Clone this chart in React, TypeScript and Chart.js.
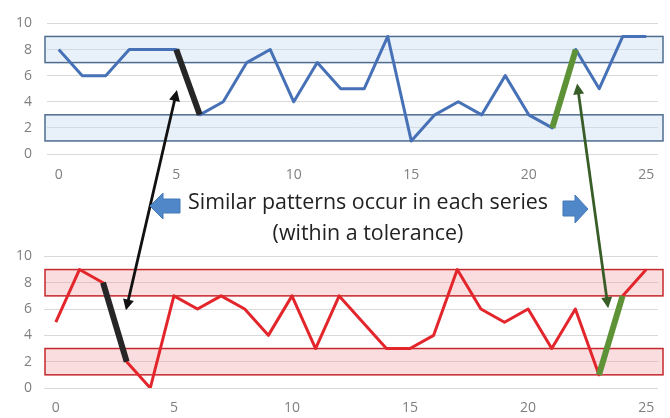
import React, { useEffect, useRef } from "react";
import { Chart, registerables } from "chart.js";

Chart.register(...registerables);

// ---- data ----
const categories = [0, 1, 2, 3, 4, 5, 6, 7, 8, 9, 10, 11, 12, 13, 14, 15, 16, 17, 18, 19, 20, 21, 22, 23, 24, 25];
const topSeries = [8, 6, 6, 8, 8, 8, 3, 4, 7, 8, 4, 7, 5, 5, 9, 1, 3, 4, 3, 6, 3, 2, 8, 5, 9, 9];
const bottomSeries = [5, 9, 8, 2, 0, 7, 6, 7, 6, 4, 7, 3, 7, 5, 3, 3, 4, 9, 6, 5, 6, 3, 6, 1, 7, 9];
const xTicks = [0, 5, 10, 15, 20, 25];
const yTicks = [0, 2, 4, 6, 8, 10];
const toleranceBands = [
  [7, 9],
  [1, 3],
];
const topBlackSegment = [5, 6];
const topGreenSegment = [21, 22];
const bottomBlackSegment = [2, 3];
const bottomGreenSegment = [23, 24];
// arrow end points in data coordinates: [x, y] in top chart, [x, y] in bottom chart
const blackArrowTop = [5.03, 4.9];
const blackArrowBottom = [2.97, 5.9];
const greenArrowTop = [22.06, 5.4];
const greenArrowBottom = [23.39, 6.06];
const captionLines = ["Similar patterns occur in each series", "(within a tolerance)"];

const W = 670;
const TOP_H = 190;
const BOT_TOP = 236;
const BOT_H = 182;

function pts(series: number[]) {
  return series.map((y, i) => ({ x: categories[i], y }));
}
function segPts(series: number[], seg: number[]) {
  return seg.map((i) => ({ x: categories[i], y: series[i] }));
}

function bandPlugin(id: string, fill: string, stroke: string, leftExt: number, rightExt: number) {
  return {
    id,
    beforeDatasetsDraw(chart: any) {
      const { ctx, chartArea, scales } = chart;
      const y = scales.y;
      ctx.save();
      for (const [lo, hi] of toleranceBands) {
        const t = y.getPixelForValue(hi);
        const b = y.getPixelForValue(lo);
        const l = chartArea.left + leftExt;
        const r = chartArea.right + rightExt;
        ctx.fillStyle = fill;
        ctx.fillRect(l, t, r - l, b - t);
        ctx.strokeStyle = stroke;
        ctx.lineWidth = 1.5;
        ctx.strokeRect(l, t, r - l, b - t);
      }
      ctx.restore();
    },
  };
}

function makeChart(canvas: HTMLCanvasElement, o: any) {
  const tickFont = { family: "'Open Sans', 'Liberation Sans', sans-serif", size: 14 };
  return new Chart(canvas, {
    type: "line",
    data: {
      datasets: [
        {
          data: segPts(o.series, o.blackSeg),
          borderColor: "#262626",
          borderWidth: 6,
          order: 0,
          borderCapStyle: "butt",
        },
        {
          data: segPts(o.series, o.greenSeg),
          borderColor: "#5E9236",
          borderWidth: 6,
          order: 0,
          borderCapStyle: "butt",
        },
        {
          data: pts(o.series),
          borderColor: o.color,
          borderWidth: 3,
          order: 1,
        },
      ],
    },
    options: {
      animation: false,
      responsive: false,
      events: [],
      layout: { padding: { top: o.padTop, right: 12, left: 0, bottom: 0 } },
      plugins: { legend: { display: false }, tooltip: { enabled: false } },
      elements: {
        point: { radius: 0 },
        line: { tension: 0, borderJoinStyle: "round" },
      },
      scales: {
        x: {
          type: "linear",
          min: -0.5,
          max: 25.5,
          grid: { display: false, drawTicks: false },
          border: { display: false },
          ticks: { color: "#7f7f7f", font: tickFont, padding: o.xPad, maxRotation: 0 },
          afterBuildTicks: (s: any) => {
            s.ticks = xTicks.map((v) => ({ value: v }));
          },
          afterFit: (s: any) => {
            s.height = o.xAxisH;
          },
        },
        y: {
          min: 0,
          max: 10,
          ticks: { color: "#7f7f7f", font: tickFont, padding: o.yPad },
          afterBuildTicks: (s: any) => {
            s.ticks = yTicks.map((v) => ({ value: v }));
          },
          grid: { color: "#d9d9d9", drawTicks: false, lineWidth: 1 },
          border: { display: false },
          afterFit: (s: any) => {
            s.width = o.yAxisW;
          },
        },
      },
    } as any,
    plugins: [bandPlugin(o.id, o.bandFill, o.bandStroke, o.bandL, o.bandR)],
  } as any);
}

function drawDoubleArrow(
  ctx: CanvasRenderingContext2D,
  x1: number,
  y1: number,
  x2: number,
  y2: number,
  color: string,
  width: number
) {
  const ang = Math.atan2(y2 - y1, x2 - x1);
  const hl = 11;
  const hw = 5.5;
  const ux = Math.cos(ang);
  const uy = Math.sin(ang);
  ctx.save();
  ctx.strokeStyle = color;
  ctx.fillStyle = color;
  ctx.lineWidth = width;
  ctx.beginPath();
  ctx.moveTo(x1 + ux * (hl - 2), y1 + uy * (hl - 2));
  ctx.lineTo(x2 - ux * (hl - 2), y2 - uy * (hl - 2));
  ctx.stroke();
  const head = (tx: number, ty: number, dx: number, dy: number) => {
    const bx = tx - dx * hl;
    const by = ty - dy * hl;
    ctx.beginPath();
    ctx.moveTo(tx, ty);
    ctx.lineTo(bx - dy * hw, by + dx * hw);
    ctx.lineTo(bx + dy * hw, by - dx * hw);
    ctx.closePath();
    ctx.fill();
  };
  head(x1, y1, -ux, -uy);
  head(x2, y2, ux, uy);
  ctx.restore();
}

function drawBlockArrow(ctx: CanvasRenderingContext2D, p: number[][]) {
  ctx.save();
  ctx.fillStyle = "#4F87C9";
  ctx.strokeStyle = "#4479B8";
  ctx.lineWidth = 1;
  ctx.beginPath();
  p.forEach(([x, y], i) => (i ? ctx.lineTo(x, y) : ctx.moveTo(x, y)));
  ctx.closePath();
  ctx.fill();
  ctx.stroke();
  ctx.restore();
}

export default function App() {
  const topRef = useRef<HTMLCanvasElement>(null);
  const botRef = useRef<HTMLCanvasElement>(null);
  const ovRef = useRef<HTMLCanvasElement>(null);

  useEffect(() => {
    const top = makeChart(topRef.current!, {
      id: "bandsTop",
      series: topSeries,
      blackSeg: topBlackSegment,
      greenSeg: topGreenSegment,
      color: "#4771B6",
      padTop: 14,
      xPad: 13,
      xAxisH: 36,
      yPad: 15,
      yAxisW: 47,
      bandFill: "rgba(205,222,242,0.45)",
      bandStroke: "#4E6C90",
      bandL: -2,
      bandR: 5,
    });
    const bot = makeChart(botRef.current!, {
      id: "bandsBot",
      series: bottomSeries,
      blackSeg: bottomBlackSegment,
      greenSeg: bottomGreenSegment,
      color: "#E3262C",
      padTop: 20,
      xPad: 12,
      xAxisH: 30,
      yPad: 12,
      yAxisW: 44,
      bandFill: "rgba(240,150,155,0.32)",
      bandStroke: "#C4282D",
      bandL: 1,
      bandR: 5,
    });

    const ov = ovRef.current!;
    const ctx = ov.getContext("2d")!;
    ctx.clearRect(0, 0, ov.width, ov.height);
    const tp = (p: number[]) => [top.scales.x.getPixelForValue(p[0]), top.scales.y.getPixelForValue(p[1])];
    const bp = (p: number[]) => [
      bot.scales.x.getPixelForValue(p[0]),
      bot.scales.y.getPixelForValue(p[1]) + BOT_TOP,
    ];
    const ba = tp(blackArrowTop);
    const bb = bp(blackArrowBottom);
    drawDoubleArrow(ctx, ba[0], ba[1], bb[0], bb[1], "#111111", 2.8);
    const ga = tp(greenArrowTop);
    const gb = bp(greenArrowBottom);
    drawDoubleArrow(ctx, ga[0], ga[1], gb[0], gb[1], "#385D27", 2.8);

    drawBlockArrow(ctx, [
      [150, 206],
      [163, 193],
      [163, 199],
      [180, 199],
      [180, 213],
      [163, 213],
      [163, 219],
    ]);
    drawBlockArrow(ctx, [
      [588, 209],
      [575, 195],
      [575, 201],
      [563, 201],
      [563, 216],
      [575, 216],
      [575, 223],
    ]);

    return () => {
      top.destroy();
      bot.destroy();
    };
  }, []);

  return (
    <div
      style={{
        position: "fixed",
        left: 0,
        top: 0,
        width: W,
        height: 418,
        background: "#ffffff",
        overflow: "hidden",
      }}
    >
      <canvas ref={topRef} width={W} height={TOP_H} style={{ position: "absolute", left: 0, top: 0 }} />
      <canvas ref={botRef} width={W} height={BOT_H} style={{ position: "absolute", left: 0, top: BOT_TOP }} />
      <div
        style={{
          position: "absolute",
          left: 168,
          top: 185,
          width: 400,
          textAlign: "center",
          fontFamily: "'Open Sans', 'Noto Sans', sans-serif",
          fontSize: 21.4,
          lineHeight: "31px",
          color: "#222222",
          whiteSpace: "nowrap",
        }}
      >
        {captionLines.map((l, i) => (
          <div key={i}>{l}</div>
        ))}
      </div>
      <canvas
        ref={ovRef}
        width={W}
        height={418}
        style={{ position: "absolute", left: 0, top: 0, pointerEvents: "none" }}
      />
    </div>
  );
}
